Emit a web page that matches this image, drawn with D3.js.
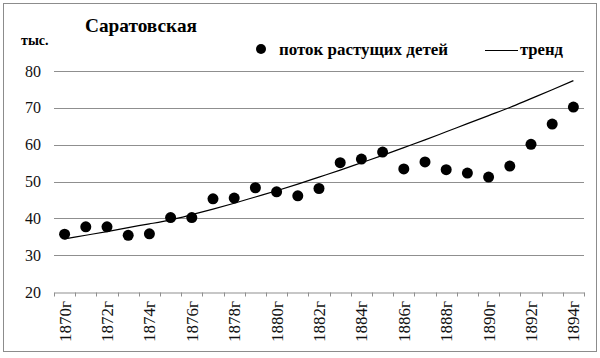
<!DOCTYPE html>
<html><head><meta charset="utf-8">
<script src="https://cdn.jsdelivr.net/npm/d3@7"></script>
<style>body{margin:0;background:#fff}svg{display:block}</style>
</head><body><svg id="c" width="600" height="358"></svg>
<script>
const years = d3.range(1870, 1895);
const values = [35.7,37.7,37.7,35.4,35.8,40.2,40.2,45.3,45.5,48.3,47.2,46.1,48.1,55.1,56.1,58.0,53.4,55.3,53.2,52.3,51.2,54.2,60.1,65.6,70.2];
const trendValues = [34.4,35.4,36.4,37.5,38.5,39.6,41.0,42.5,44.1,45.8,47.5,49.3,51.2,53.1,55.1,57.1,59.2,61.3,63.5,65.7,67.9,70.1,72.5,74.9,77.4];
const yTicks = [20,30,40,50,60,70,80];
const title = "Саратовская";
const unit = "тыс.";
const seriesName = "поток растущих детей";
const trendName = "тренд";
const FONT = "'Liberation Serif', 'Times New Roman', 'DejaVu Serif', serif";

const svg = d3.select("#c");
svg.append("rect").attr("x",3.5).attr("y",3.5).attr("width",593).attr("height",348)
  .attr("fill","#fff").attr("stroke","#8c8c8c").attr("stroke-width",1);

const L=54, R=584, T=71, B=292;
const x = d3.scaleBand().domain(years).range([L,R]);
const y = d3.scaleLinear().domain([20,80]).range([B,T]);
const cx = d => x(d)+x.bandwidth()/2;

// grid
svg.append("g").selectAll("line").data(yTicks.slice(1)).join("line")
  .attr("x1",L).attr("x2",R).attr("y1",d=>Math.round(y(d))+0.5).attr("y2",d=>Math.round(y(d))+0.5)
  .attr("stroke","#8f8f8f").attr("stroke-width",1);

// y labels
svg.append("g").selectAll("text").data(yTicks).join("text")
  .attr("font-family",FONT)
  .attr("x",41).attr("y",d=>y(d)+5.5).attr("text-anchor","end")
  .attr("font-size",16).attr("fill","#111").text(d=>d);

// x axis
const xa = d3.axisBottom(x).tickSize(0).tickFormat("");
const gx = svg.append("g").attr("transform",`translate(0,${B+0.5})`).call(xa);
gx.select(".domain").attr("stroke","#8f8f8f");
const bounds = years.map(d=>x(d)).concat([R]);
gx.selectAll(".tk").data(bounds).join("line").attr("class","tk")
  .attr("x1",d=>Math.round(d)+0.5).attr("x2",d=>Math.round(d)+0.5).attr("y1",0).attr("y2",4)
  .attr("stroke","#8f8f8f");

svg.append("g").selectAll("text").data(years.filter(d=>(d-1870)%2===0)).join("text")
  .attr("font-family",FONT)
  .attr("transform",d=>`translate(${cx(d)+6},301) rotate(-90)`)
  .attr("text-anchor","end").attr("font-size",16).attr("fill","#111")
  .attr("textLength",41).attr("lengthAdjust","spacingAndGlyphs").text(d=>d+"г");

// trend
svg.append("path").datum(years)
  .attr("d",d3.line().x(d=>cx(d)).y((d,i)=>y(trendValues[i])).curve(d3.curveMonotoneX))
  .attr("fill","none").attr("stroke","#000").attr("stroke-width",1.2);

// points
svg.append("g").selectAll("circle").data(years).join("circle")
  .attr("cx",cx).attr("cy",(d,i)=>y(values[i])).attr("r",5.5).attr("fill","#000");

// title & unit
svg.append("text").attr("font-family",FONT).attr("x",85).attr("y",32).attr("font-size",19).attr("font-weight","bold")
  .attr("textLength",112).attr("lengthAdjust","spacingAndGlyphs").text(title);
svg.append("text").attr("font-family",FONT).attr("x",21).attr("y",45).attr("font-size",14).attr("font-weight","bold").text(unit);

// legend
svg.append("circle").attr("cx",261).attr("cy",49).attr("r",5).attr("fill","#000");
svg.append("text").attr("font-family",FONT).attr("x",279).attr("y",55).attr("font-size",16).attr("font-weight","bold")
  .attr("textLength",169).attr("lengthAdjust","spacingAndGlyphs").text(seriesName);
svg.append("line").attr("x1",485).attr("x2",518).attr("y1",50.5).attr("y2",50.5).attr("stroke","#000").attr("stroke-width",1.2);
svg.append("text").attr("font-family",FONT).attr("x",520).attr("y",55).attr("font-size",16).attr("font-weight","bold")
  .attr("textLength",43).attr("lengthAdjust","spacingAndGlyphs").text(trendName);
</script></body></html>
